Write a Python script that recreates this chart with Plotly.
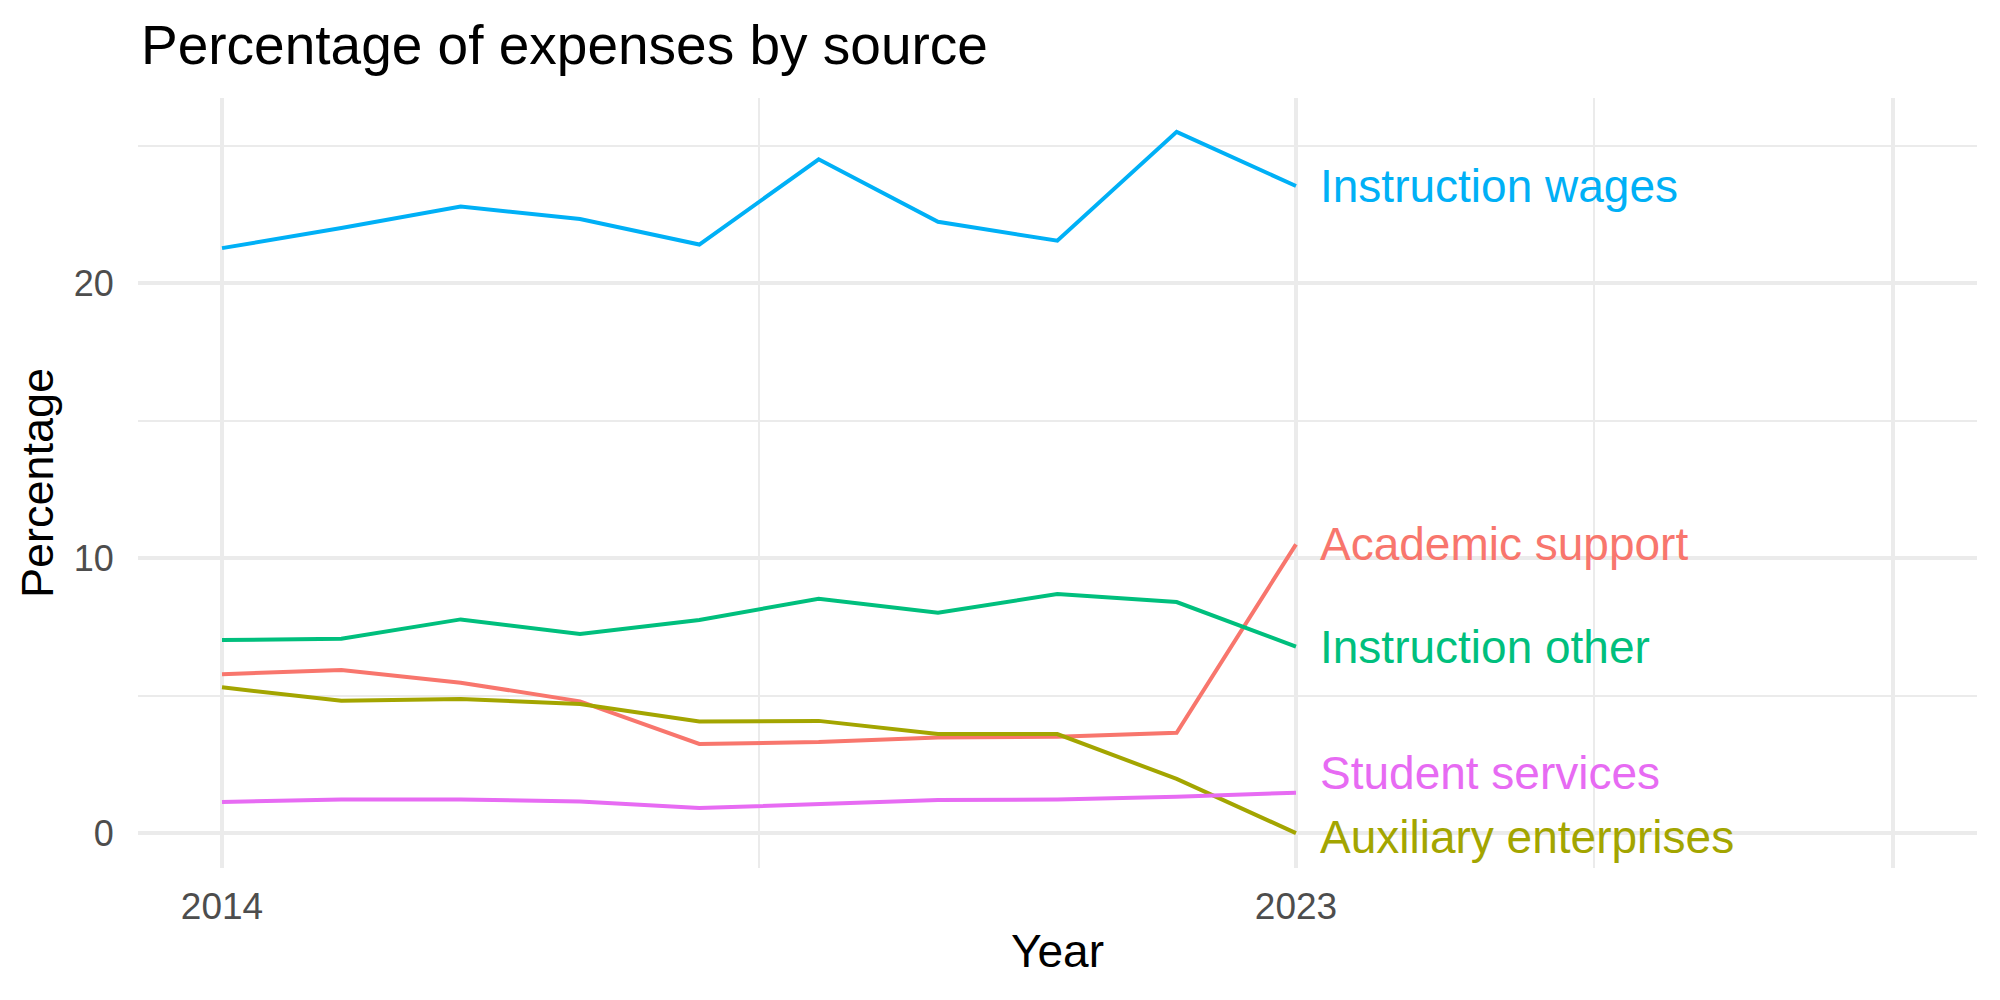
import plotly.graph_objects as go

years = [2014, 2015, 2016, 2017, 2018, 2019, 2020, 2021, 2022, 2023]

academic_support = [5.78, 5.93, 5.47, 4.79, 3.24, 3.31, 3.48, 3.50, 3.65, 10.50]
auxiliary_enterprises = [5.30, 4.81, 4.88, 4.69, 4.06, 4.08, 3.60, 3.60, 1.97, 0.00]
instruction_other = [7.02, 7.07, 7.77, 7.24, 7.75, 8.52, 8.01, 8.69, 8.40, 6.78]
instruction_wages = [21.27, 22.00, 22.78, 22.33, 21.40, 24.50, 22.23, 21.54, 25.50, 23.53]
student_services = [1.13, 1.22, 1.22, 1.15, 0.91, 1.05, 1.20, 1.22, 1.32, 1.47]

series_names = ["Academic support", "Auxiliary enterprises", "Instruction other",
                "Instruction wages", "Student services"]
series_values = [academic_support, auxiliary_enterprises, instruction_other,
                 instruction_wages, student_services]
colors = ["#F8766D", "#A3A500", "#00BF7D", "#00B0F6", "#E76BF3"]
# label vertical positions (repelled like the original)
label_y = [10.5, -0.15, 6.78, 23.53, 2.18]

x_tickvals = [2014, 2023, 2028]
x_ticktext = ["2014", "2023", ""]
y_tickvals = [0, 10, 20]
y_ticktext = ["0", "10", "20"]

FONT = "Liberation Sans, Arial, Helvetica, sans-serif"

fig = go.Figure()
for name, vals, col in zip(series_names, series_values, colors):
    fig.add_trace(go.Scatter(x=years, y=vals, mode="lines", name=name,
                             line=dict(color=col, width=4), showlegend=False))

for name, vals, col, ly in zip(series_names, series_values, colors, label_y):
    fig.add_annotation(x=years[-1], y=ly, text=name, xanchor="left", yanchor="middle",
                       xshift=22, showarrow=False,
                       font=dict(family=FONT, size=46, color=col))

fig.update_layout(
    width=2000, height=1000,
    margin=dict(l=138, r=23, t=98, b=132),
    paper_bgcolor="white", plot_bgcolor="white",
    font=dict(family=FONT),
    title=dict(text="Percentage of expenses by source", xref="container", yref="container",
               x=141 / 2000, xanchor="left", y=1 - 45 / 1000, yanchor="middle",
               font=dict(family=FONT, size=55, color="black")),
    xaxis=dict(
        range=[2013.296, 2028.707],
        tickmode="array", tickvals=x_tickvals, ticktext=x_ticktext,
        showgrid=True, gridcolor="#EBEBEB", gridwidth=4,
        minor=dict(tickmode="array", tickvals=[2018.5, 2025.5], showgrid=True,
                   gridcolor="#EBEBEB", gridwidth=2),
        zeroline=False, showline=False,
        ticks="outside", ticklen=6, tickcolor="rgba(0,0,0,0)",
        tickfont=dict(family=FONT, size=37, color="#4D4D4D"),
        title=dict(text="Year", font=dict(family=FONT, size=46, color="black"), standoff=8),
    ),
    yaxis=dict(
        range=[-1.27, 26.73],
        tickmode="array", tickvals=y_tickvals, ticktext=y_ticktext,
        showgrid=True, gridcolor="#EBEBEB", gridwidth=4,
        minor=dict(tickmode="array", tickvals=[5, 15, 25], showgrid=True,
                   gridcolor="#EBEBEB", gridwidth=2),
        zeroline=False, showline=False,
        ticks="outside", ticklen=16, tickcolor="rgba(0,0,0,0)",
        tickfont=dict(family=FONT, size=36, color="#4D4D4D"),
        title=dict(text="Percentage", font=dict(family=FONT, size=45, color="black"), standoff=6),
    ),
)

fig.write_html("out.html")
